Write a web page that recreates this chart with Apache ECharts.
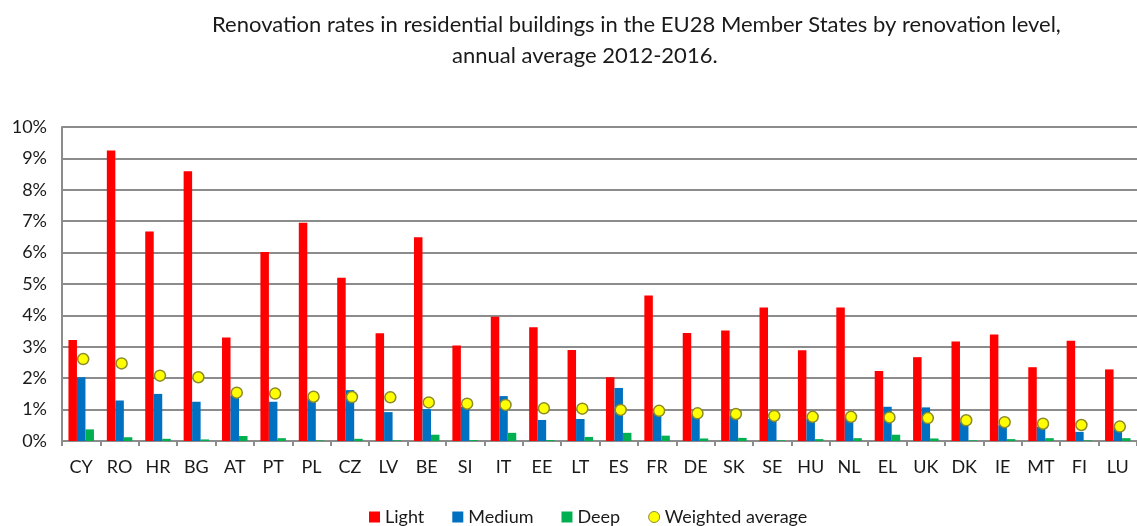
<!DOCTYPE html>
<html>
<head>
<meta charset="utf-8">
<script src="https://cdn.jsdelivr.net/npm/echarts@6/dist/echarts.min.js"></script>
<style>
  html, body { margin: 0; padding: 0; background: #fff; }
  #chart { width: 1137px; height: 526px; }
</style>
</head>
<body>
<div id="chart"></div>
<script>
// countries, ordered by weighted average
const countries = ['CY', 'RO', 'HR', 'BG', 'AT', 'PT', 'PL', 'CZ', 'LV', 'BE', 'SI', 'IT', 'EE', 'LT',
  'ES', 'FR', 'DE', 'SK', 'SE', 'HU', 'NL', 'EL', 'UK', 'DK', 'IE', 'MT', 'FI', 'LU']
// values in %
const light = [3.22, 9.25, 6.67, 8.59, 3.30, 6.02, 6.95, 5.20, 3.43, 6.49, 3.04, 3.96, 3.62, 2.90,
  2.03, 4.63, 3.44, 3.52, 4.25, 2.89, 4.25, 2.23, 2.67, 3.17, 3.39, 2.35, 3.19, 2.28]
const medium = [2.03, 1.29, 1.50, 1.25, 1.45, 1.25, 1.35, 1.62, 0.92, 1.02, 1.09, 1.43, 0.67, 0.70,
  1.69, 0.90, 0.85, 0.80, 0.70, 0.70, 0.75, 1.09, 1.07, 0.60, 0.50, 0.45, 0.29, 0.40]
const deep = [0.37, 0.12, 0.07, 0.05, 0.16, 0.09, 0.02, 0.07, 0.02, 0.20, 0.03, 0.26, 0.03, 0.13,
  0.26, 0.17, 0.08, 0.10, 0.02, 0.06, 0.09, 0.20, 0.08, 0.02, 0.06, 0.09, 0.02, 0.09]
const weighted = [2.61, 2.47, 2.08, 2.03, 1.54, 1.51, 1.41, 1.40, 1.39, 1.23, 1.19, 1.15, 1.04, 1.03,
  0.99, 0.96, 0.88, 0.86, 0.80, 0.77, 0.77, 0.75, 0.73, 0.66, 0.60, 0.55, 0.51, 0.46]

const FONT = 'Lato, "Noto Sans", sans-serif'
const TXT = '#1a1a1a'

let myChart = echarts.init(document.getElementById('chart'))
let option = {
  animation: false,
  textStyle: { fontFamily: FONT },
  title: [{
    text: 'Renovation rates in residential buildings in the EU28 Member States by renovation level,',
    left: 207,
    top: 9,
    textStyle: { fontFamily: FONT, fontSize: 22, fontWeight: 'normal', color: TXT }
  }, {
    text: 'annual average 2012-2016.',
    left: 447,
    top: 40,
    textStyle: { fontFamily: FONT, fontSize: 22, fontWeight: 'normal', color: TXT }
  }],
  legend: {
    bottom: -5,
    left: 364,
    itemWidth: 11,
    itemHeight: 11,
    itemGap: 28,
    textStyle: { fontFamily: FONT, fontSize: 18, color: TXT },
    data: [
      { name: 'Light', icon: 'rect' },
      { name: 'Medium', icon: 'rect' },
      { name: 'Deep', icon: 'rect' },
      { name: 'Weighted average', icon: 'circle', itemStyle: { borderColor: '#8a8a2a', borderWidth: 1 } }
    ]
  },
  grid: {
    left: 62,
    top: 127,
    width: 1080,
    height: 314
  },
  xAxis: {
    type: 'category',
    data: countries,
    axisLine: { lineStyle: { color: '#8c8c8c', width: 2 } },
    axisTick: { show: true, length: 5, lineStyle: { color: '#8c8c8c', width: 2 } },
    axisLabel: { fontFamily: FONT, fontSize: 18, color: TXT, margin: 17, interval: 0 }
  },
  yAxis: {
    type: 'value',
    min: 0,
    max: 10,
    interval: 1,
    axisLine: { show: true, lineStyle: { color: '#8c8c8c', width: 2 } },
    axisTick: { show: false },
    splitLine: { lineStyle: { color: '#8c8c8c', width: 2 } },
    axisLabel: { formatter: '{value}%', fontFamily: FONT, fontSize: 18, color: TXT, margin: 15 }
  },
  series: [{
    name: 'Light',
    type: 'bar',
    data: light,
    barWidth: 8.5,
    barGap: '0%',
    itemStyle: { color: '#ff0000' }
  }, {
    name: 'Medium',
    type: 'bar',
    data: medium,
    barWidth: 8.5,
    barGap: '0%',
    itemStyle: { color: '#0070c0' }
  }, {
    name: 'Deep',
    type: 'bar',
    data: deep,
    barWidth: 8.5,
    barGap: '0%',
    itemStyle: { color: '#00b050' }
  }, {
    name: 'Weighted average',
    type: 'scatter',
    data: weighted,
    symbol: 'circle',
    symbolSize: 11,
    symbolOffset: [2, 0],
    itemStyle: { color: '#ffff00', borderColor: '#8a8a2a', borderWidth: 1.5, opacity: 1 },
    z: 5
  }]
}
myChart.setOption(option, true)
</script>
</body>
</html>
